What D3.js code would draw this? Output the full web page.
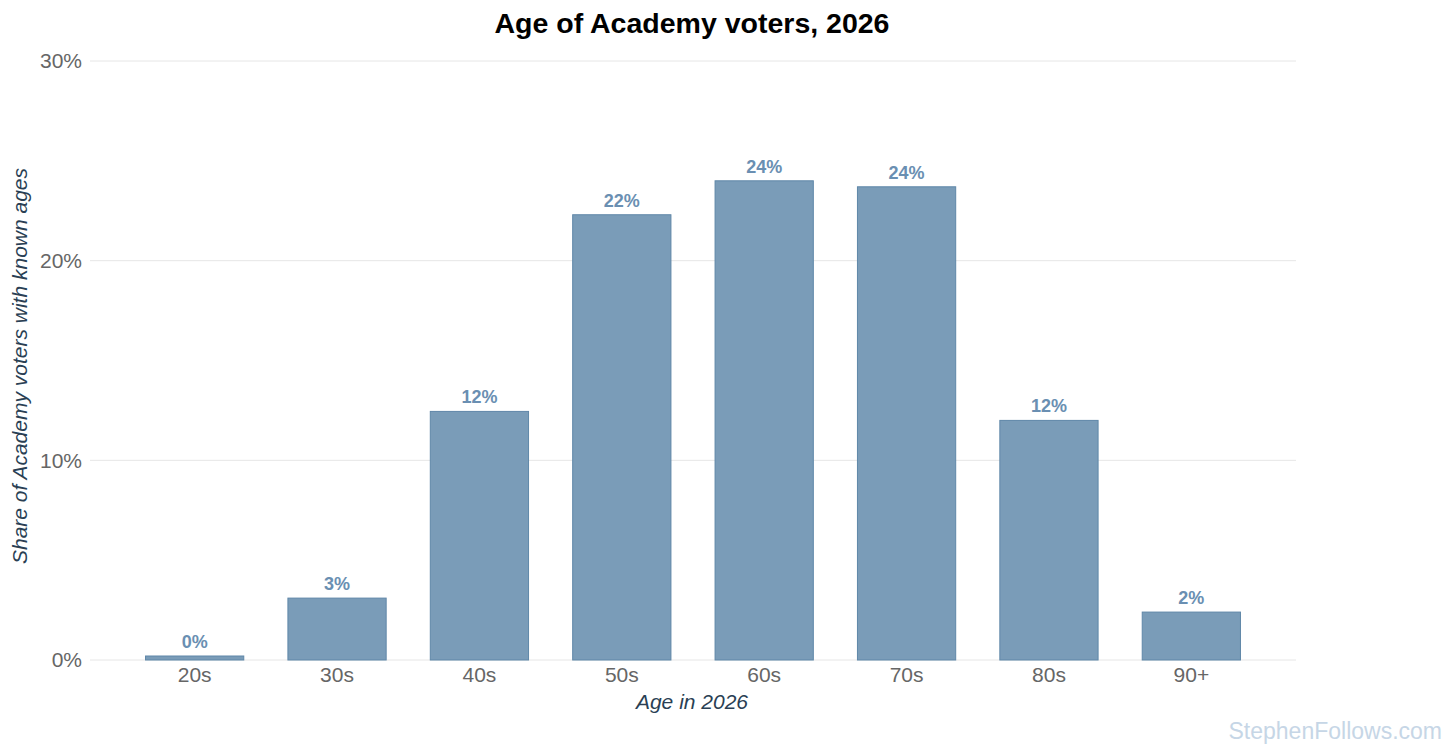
<!DOCTYPE html>
<html>
<head>
<meta charset="utf-8">
<script src="https://cdn.jsdelivr.net/npm/d3@7"></script>
<style>
  body { margin: 0; background: #fff; font-family: "Liberation Sans", Arial, sans-serif; }
</style>
</head>
<body>
<div id="chart"></div>
<script>
const ageGroups = ["20s", "30s", "40s", "50s", "60s", "70s", "80s", "90+"]
const shares = [0.2, 3.1, 12.45, 22.3, 24.0, 23.7, 12.0, 2.4]
const yTicks = [0, 10, 20, 30]

const width = 1456
const height = 754
const plotLeft = 90, plotRight = 1296, plotTop = 61, plotBottom = 660

const svg = d3.select("#chart").append("svg").attr("width", width).attr("height", height)

const x = d3.scaleBand().domain(ageGroups).range([plotLeft, plotRight]).paddingInner(0.31).paddingOuter(0.39)
const y = d3.scaleLinear().domain([0, 30]).range([plotBottom, plotTop])

// gridlines
svg.append("g").selectAll("line").data(yTicks).enter().append("line")
    .attr("x1", plotLeft).attr("x2", plotRight)
    .attr("y1", d => y(d)).attr("y2", d => y(d))
    .attr("stroke", "#e6e6e6").attr("stroke-width", 1)

// y tick labels
svg.append("g").selectAll("text").data(yTicks).enter().append("text")
    .attr("x", 82).attr("y", d => y(d)).attr("dy", "0.35em")
    .attr("text-anchor", "end").attr("font-size", 21).attr("fill", "#666")
    .text(d => d + "%")

// bars
svg.append("g").selectAll("rect").data(shares).enter().append("rect")
    .attr("x", (d, i) => x(ageGroups[i]))
    .attr("y", d => y(d))
    .attr("width", x.bandwidth())
    .attr("height", d => y(0) - y(d))
    .attr("fill", "#7a9cb8").attr("stroke", "#5f87a8").attr("stroke-width", 1)

// value labels
svg.append("g").selectAll("text").data(shares).enter().append("text")
    .attr("x", (d, i) => x(ageGroups[i]) + x.bandwidth() / 2)
    .attr("y", d => y(d) - 8)
    .attr("text-anchor", "middle").attr("font-size", 18).attr("font-weight", "bold")
    .attr("fill", "#6a8fb2")
    .text(d => Math.round(d) + "%")

// x tick labels
svg.append("g").selectAll("text").data(ageGroups).enter().append("text")
    .attr("x", d => x(d) + x.bandwidth() / 2).attr("y", plotBottom + 22)
    .attr("text-anchor", "middle").attr("font-size", 21).attr("fill", "#666")
    .text(d => d)

// axis titles
svg.append("text").attr("x", (plotLeft + plotRight) / 2 - 1).attr("y", 709)
    .attr("text-anchor", "middle").attr("font-size", 21).attr("font-style", "italic").attr("fill", "#2a3f54")
    .text("Age in 2026")
svg.append("text").attr("transform", "translate(27,366) rotate(-90)")
    .attr("text-anchor", "middle").attr("font-size", 21).attr("font-style", "italic").attr("fill", "#2a3f54")
    .text("Share of Academy voters with known ages")

// title
svg.append("text").attr("x", 692).attr("y", 33)
    .attr("text-anchor", "middle").attr("font-size", 28.5).attr("font-weight", "bold").attr("fill", "#000")
    .text("Age of Academy voters, 2026")

// watermark
svg.append("text").attr("x", 1442).attr("y", 739)
    .attr("text-anchor", "end").attr("font-size", 23).attr("fill", "#c6d6e6")
    .text("StephenFollows.com")
</script>
</body>
</html>
